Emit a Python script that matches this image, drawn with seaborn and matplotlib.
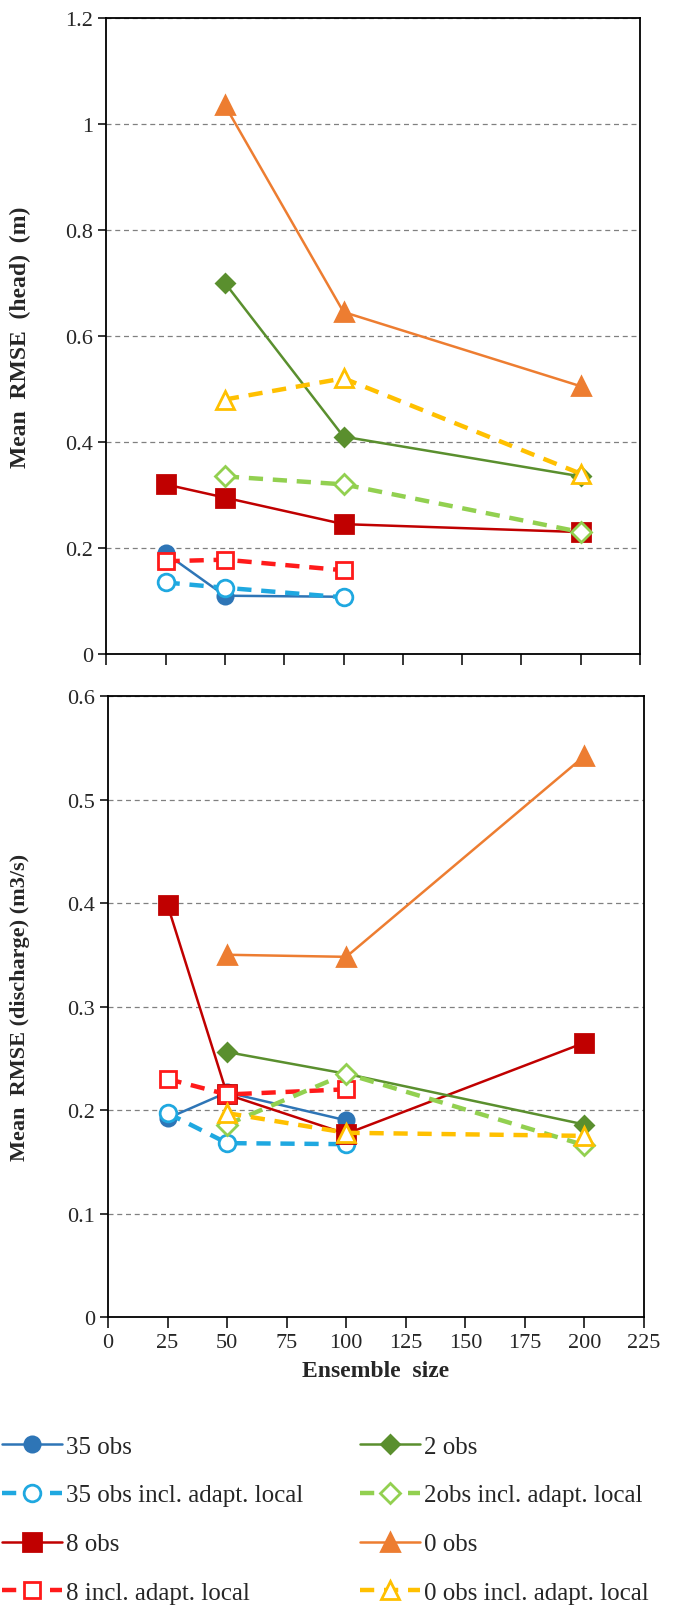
import matplotlib
matplotlib.use("Agg")
import matplotlib.pyplot as plt
import pandas as pd
import seaborn as sns

sns.set_style("white")
plt.rcParams["font.family"] = ["Liberation Serif", "DejaVu Serif"]

# series labels and ensemble sizes
labels = [
    "35 obs", "35 obs incl. adapt. local", "8 obs", "8 incl. adapt. local",
    "2 obs", "2obs incl. adapt. local", "0 obs", "0 obs incl. adapt. local",
]
sizes = {
    "35 obs": [25, 50, 100],
    "35 obs incl. adapt. local": [25, 50, 100],
    "8 obs": [25, 50, 100, 200],
    "8 incl. adapt. local": [25, 50, 100],
    "2 obs": [50, 100, 200],
    "2obs incl. adapt. local": [50, 100, 200],
    "0 obs": [50, 100, 200],
    "0 obs incl. adapt. local": [50, 100, 200],
}

# mean RMSE head (m)
head = {
    "35 obs": [0.19, 0.11, 0.108],
    "35 obs incl. adapt. local": [0.135, 0.125, 0.107],
    "8 obs": [0.32, 0.295, 0.245, 0.23],
    "8 incl. adapt. local": [0.175, 0.178, 0.158],
    "2 obs": [0.70, 0.41, 0.335],
    "2obs incl. adapt. local": [0.335, 0.32, 0.23],
    "0 obs": [1.035, 0.645, 0.505],
    "0 obs incl. adapt. local": [0.48, 0.52, 0.34],
}

# mean RMSE discharge (m3/s)
discharge = {
    "35 obs": [0.192, 0.217, 0.19],
    "35 obs incl. adapt. local": [0.197, 0.168, 0.167],
    "8 obs": [0.398, 0.215, 0.177, 0.265],
    "8 incl. adapt. local": [0.23, 0.215, 0.22],
    "2 obs": [0.256, 0.235, 0.186],
    "2obs incl. adapt. local": [0.186, 0.235, 0.166],
    "0 obs": [0.35, 0.348, 0.542],
    "0 obs incl. adapt. local": [0.197, 0.178, 0.175],
}

styles = {
    "35 obs": dict(color="#2E75B6", marker="o", ms=11, ls="-", open=False),
    "35 obs incl. adapt. local": dict(color="#1FA8E0", marker="o", ms=12, ls="--", open=True),
    "8 obs": dict(color="#C00000", marker="s", ms=13, ls="-", open=False),
    "8 incl. adapt. local": dict(color="#FF1A1A", marker="s", ms=12, ls="--", open=True),
    "2 obs": dict(color="#5A8F2E", marker="D", ms=9, ls="-", open=False),
    "2obs incl. adapt. local": dict(color="#92D050", marker="D", ms=10, ls="--", open=True),
    "0 obs": dict(color="#ED7D31", marker="^", ms=13, ls="-", open=False),
    "0 obs incl. adapt. local": dict(color="#FFC000", marker="^", ms=13, ls="--", open=True),
}


def draw(ax, values):
    for lab in labels:
        df = pd.DataFrame({"size": sizes[lab], "rmse": values[lab]})
        st = styles[lab]
        solid = st["ls"] == "-"
        sns.lineplot(
            data=df, x="size", y="rmse", ax=ax, color=st["color"],
            marker=st["marker"], markersize=st["ms"],
            linewidth=1.8 if solid else 3.2,
            dashes=False if solid else (3.2, 2.2),
            markerfacecolor="white" if st["open"] else st["color"],
            markeredgecolor=st["color"], markeredgewidth=2.0,
            label=lab, legend=False,
        )
    ax.set_xlim(0, 225)
    ax.set_xticks(range(0, 226, 25))
    ax.grid(axis="y", color="#808080", linestyle=(0, (4, 3)), linewidth=0.9)
    for sp in ax.spines.values():
        sp.set_color("black")
        sp.set_linewidth(1.3)
    ax.tick_params(axis="both", direction="out", width=1.3,
                   labelsize=16, bottom=True, left=True)
    ax.tick_params(axis="x", length=8)
    ax.tick_params(axis="y", length=6)


fig = plt.figure(figsize=(6.81, 16.15), dpi=100)
ax1 = fig.add_axes([0.156, 0.5944, 0.784, 0.394])
ax2 = fig.add_axes([0.1586, 0.1839, 0.787, 0.3845])

draw(ax1, head)
ax1.set_ylim(0, 1.2)
ax1.set_yticks([0, 0.2, 0.4, 0.6, 0.8, 1.0, 1.2])
ax1.set_yticklabels(["0", "0.2", "0.4", "0.6", "0.8", "1", "1.2"])
ax1.set_xticklabels([])
ax1.set_xlabel("")
ax1.set_ylabel("Mean  RMSE  (head)  (m)", fontsize=17, fontweight="bold")

draw(ax2, discharge)
ax2.set_ylim(0, 0.6)
ax2.set_yticks([0, 0.1, 0.2, 0.3, 0.4, 0.5, 0.6])
ax2.set_yticklabels(["0", "0.1", "0.2", "0.3", "0.4", "0.5", "0.6"])
ax2.set_xlabel("Ensemble  size", fontsize=17, fontweight="bold", labelpad=6)
ax2.set_ylabel("Mean  RMSE (discharge) (m3/s)", fontsize=16, fontweight="bold")

ax1.yaxis.set_label_coords(-0.14, 0.5)
ax2.yaxis.set_label_coords(-0.145, 0.5)

handles, labs = ax1.get_legend_handles_labels()
fig.legend(handles, labs, ncol=2, loc="lower left", bbox_to_anchor=(-0.012, 0.0),
           frameon=False, fontsize=18, handlelength=2.4, handletextpad=0.15,
           columnspacing=2.3, labelspacing=1.05, borderaxespad=0.0)

fig.savefig("out.png", dpi=100)
